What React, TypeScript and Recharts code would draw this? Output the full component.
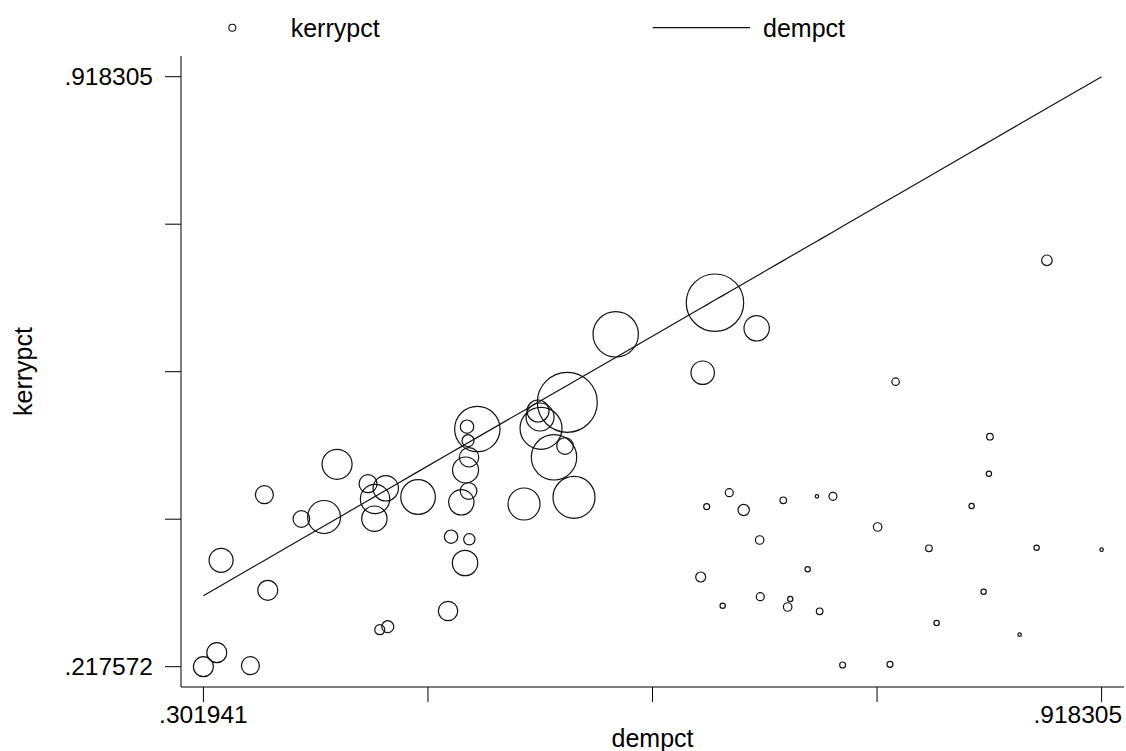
import { ScatterChart, Scatter, XAxis, YAxis, ZAxis } from "recharts";

// dempct (x), kerrypct (y) and the weight that sets each bubble's area
const dempct = [
  0.301941, 0.31113, 0.33419, 0.31408, 0.34612, 0.34379, 0.36917, 0.38475, 0.39367, 0.41493,
  0.42708, 0.41974, 0.41926, 0.44924, 0.42296, 0.42845, 0.46982, 0.47894, 0.48388, 0.48148,
  0.47188, 0.48443, 0.48183, 0.48423, 0.48354, 0.48285, 0.48992, 0.52196, 0.53156, 0.53294,
  0.53362, 0.54254, 0.55009, 0.55166, 0.55626, 0.58487, 0.65299, 0.6816, 0.64456,
  0.88077, 0.77696, 0.84166, 0.84098, 0.82911, 0.66281, 0.6473, 0.67269, 0.69985, 0.72297,
  0.73395, 0.76462, 0.68366, 0.79981, 0.8737, 0.918305, 0.64319, 0.7166, 0.83734, 0.68407,
  0.70465, 0.65828, 0.70287, 0.72482, 0.80509, 0.86204, 0.7406, 0.77306,
];
const kerrypct = [
  0.217572, 0.2342, 0.21876, 0.34394, 0.30831, 0.42185, 0.39299, 0.39536, 0.45795, 0.43491,
  0.42945, 0.41674, 0.39335, 0.41912, 0.26151, 0.26508, 0.28372, 0.41282, 0.42624, 0.34073,
  0.37197, 0.36888, 0.45119, 0.46627, 0.48598, 0.50261, 0.49988, 0.4108, 0.52126, 0.51413,
  0.50071, 0.46627, 0.47969, 0.53159, 0.41876, 0.61235, 0.64989, 0.61948, 0.56675,
  0.70024, 0.55606, 0.49073, 0.44679, 0.40843, 0.42422, 0.4076, 0.40368, 0.4152, 0.41995,
  0.41995, 0.38349, 0.36805, 0.35819, 0.3589, 0.35653, 0.3241, 0.33325, 0.30665, 0.30071,
  0.29797, 0.29002, 0.28847, 0.28337, 0.26947, 0.25558, 0.21959, 0.22042,
];
const weight = [
  100, 100, 81, 144, 100, 81, 69, 272, 225, 81,
  161, 216, 161, 299, 25, 36, 94, 161, 69, 161,
  45, 32, 169, 94, 36, 45, 515, 256, 121, 196,
  441, 515, 69, 900, 441, 515, 824, 161, 137,
  28, 14, 11, 7, 7, 16, 9, 32, 11, 3,
  16, 18, 18, 11, 7, 3, 25, 7, 7, 16,
  7, 7, 18, 11, 7, 3, 9, 9,
];

const xTicks = [0.301941, 0.456032, 0.610123, 0.764214, 0.918305];
const xTickLabels = [".301941", "", "", "", ".918305"];
const yTicks = [0.217572, 0.392755, 0.567939, 0.743122, 0.918305];
const yTickLabels = [".217572", "", "", "", ".918305"];

const points = dempct.map((d, i) => ({ x: d, y: kerrypct[i], z: weight[i] }));
// second series: dempct against itself, joined in order
const demLine = [...dempct].sort((a, b) => a - b).map((d) => ({ x: d, y: d, z: 0 }));

const FONT = '"Liberation Sans", Arial, sans-serif';

const XTick = (props: any) => {
  const { x, y, payload } = props;
  const i = xTicks.indexOf(payload.value);
  const last = i === xTicks.length - 1;
  // the last label is pulled back inside the frame, as in the original
  return (
    <text
      x={last ? x + 20.5 : x}
      y={y}
      dy={18.5}
      textAnchor={last ? "end" : "middle"}
      fontSize={24.5}
      fontFamily={FONT}
      fill="#000"
    >
      {i >= 0 ? xTickLabels[i] : ""}
    </text>
  );
};

const YTick = (props: any) => {
  const { x, y, payload } = props;
  const i = yTicks.indexOf(payload.value);
  return (
    <text x={x} y={y} dy={8.8} textAnchor="end" fontSize={24.5} fontFamily={FONT} fill="#000">
      {i >= 0 ? yTickLabels[i] : ""}
    </text>
  );
};

const Bubble = (props: any) => {
  const { cx, cy, size } = props;
  if (cx == null || cy == null) return <g />;
  const r = Math.sqrt(Math.max(size, 0) / Math.PI);
  return <circle cx={cx} cy={cy} r={r} fill="none" stroke="#111" strokeWidth={1.2} />;
};

const NoDot = () => <g />;

export default function App() {
  return (
    <div style={{ position: "absolute", left: 0, top: 0, width: 1126, height: 751, background: "#fff" }}>
      <svg width={1126} height={50} style={{ position: "absolute", left: 0, top: 0 }}>
        <circle cx={232.3} cy={27.7} r={3.5} fill="none" stroke="#111" strokeWidth={1.1} />
        <text x={290.7} y={36.5} fontSize={25} fontFamily={FONT} fill="#000">kerrypct</text>
        <line x1={652.7} y1={27.7} x2={750} y2={27.7} stroke="#111" strokeWidth={1.2} />
        <text x={763} y={36.5} fontSize={25} fontFamily={FONT} fill="#000">dempct</text>
      </svg>
      <ScatterChart
        width={1126}
        height={751}
        margin={{ top: 56, right: 2, bottom: 0, left: 0 }}
        style={{ position: "absolute", left: 0, top: 0 }}
      >
        <XAxis
          type="number"
          dataKey="x"
          domain={[0.28657, 0.93367]}
          allowDataOverflow
          ticks={xTicks}
          interval={0}
          height={64}
          tickSize={15}
          tickMargin={2}
          tick={<XTick />}
          axisLine={{ stroke: "#000", strokeWidth: 1 }}
          tickLine={{ stroke: "#000", strokeWidth: 1 }}
        />
        <YAxis
          type="number"
          dataKey="y"
          domain={[0.19346, 0.94289]}
          allowDataOverflow
          ticks={yTicks}
          interval={0}
          width={181}
          tickSize={16}
          tickMargin={12}
          tick={<YTick />}
          axisLine={{ stroke: "#000", strokeWidth: 1 }}
          tickLine={{ stroke: "#000", strokeWidth: 1 }}
        />
        <ZAxis type="number" dataKey="z" domain={[0, 1000]} range={[0, 1000 * Math.PI]} />
        <Scatter data={points} shape={<Bubble />} isAnimationActive={false} />
        <Scatter
          data={demLine}
          shape={<NoDot />}
          line={{ stroke: "#111", strokeWidth: 1.2 }}
          lineType="joint"
          isAnimationActive={false}
        />
        <text x={652.5} y={746.5} textAnchor="middle" fontSize={25} fontFamily={FONT} fill="#000">
          dempct
        </text>
        <text
          x={31.7}
          y={371.5}
          transform="rotate(-90, 31.7, 371.5)"
          textAnchor="middle"
          fontSize={25}
          fontFamily={FONT}
          fill="#000"
        >
          kerrypct
        </text>
      </ScatterChart>
    </div>
  );
}
